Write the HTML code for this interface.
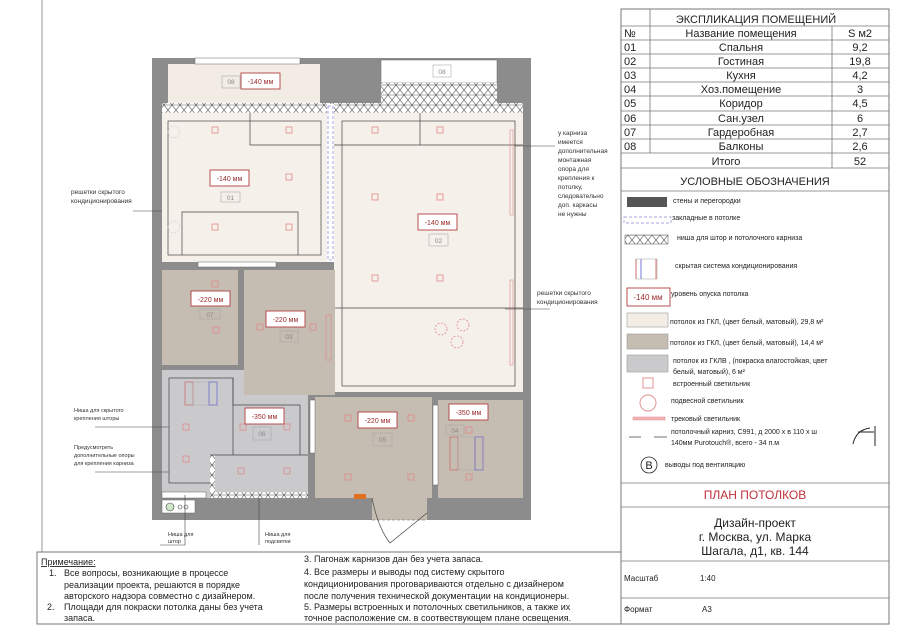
<!DOCTYPE html>
<html><head><meta charset="utf-8"><style>
html,body{margin:0;padding:0;background:#fff;}
svg{display:block;font-family:"Liberation Sans",sans-serif;}
</style></head><body>
<svg width="900" height="636" viewBox="0 0 900 636" xmlns="http://www.w3.org/2000/svg">
<defs>
<pattern id="hx" width="8" height="10" patternUnits="userSpaceOnUse">
<rect width="8" height="10" fill="#fff"/>
<path d="M0 0L4 5L0 10M8 0L4 5L8 10M0 5H8" stroke="#555" stroke-width="0.6" fill="none"/>
</pattern>
</defs>
<!-- page left line -->
<line x1="42" y1="0" x2="42" y2="552" stroke="#999" stroke-width="1"/>

<!-- PLAN -->
<rect x="152" y="58" width="379" height="462" fill="#8c8c8c"/>
<!-- left balcony -->
<rect x="168" y="64" width="152" height="40" fill="#f3ece4"/>
<rect x="195" y="58" width="105" height="6" fill="#fff" stroke="#666" stroke-width="0.5"/>
<!-- right balcony -->
<rect x="381" y="60" width="116" height="23" fill="#fff" stroke="#666" stroke-width="0.5"/>
<rect x="381" y="83" width="116" height="20" fill="url(#hx)"/>
<!-- hatched strip -->
<rect x="162" y="103" width="361" height="10" fill="url(#hx)"/>
<!-- room 01 -->
<rect x="162" y="113" width="165" height="149" fill="#f6f0ea"/>
<rect x="168" y="121" width="153" height="134" fill="none" stroke="#444" stroke-width="0.7"/>
<polyline points="250,113 250,145 321,145" fill="none" stroke="#444" stroke-width="0.7"/>
<polyline points="182,255 182,212 298,212 298,255" fill="none" stroke="#444" stroke-width="0.7"/>
<!-- blue strip -->
<rect x="327" y="104" width="7" height="158" fill="#fff"/>
<rect x="328" y="106" width="5" height="154" fill="none" stroke="#66c" stroke-width="0.6" stroke-dasharray="3,2"/>
<!-- room 02 -->
<rect x="334" y="113" width="189" height="279" fill="#f6f0ea"/>
<rect x="342" y="121" width="173" height="265" fill="none" stroke="#444" stroke-width="0.7"/>
<polyline points="334,145 523,145" fill="none" stroke="#444" stroke-width="0.7"/>
<line x1="420" y1="113" x2="420" y2="145" stroke="#444" stroke-width="0.7"/>
<line x1="335" y1="308" x2="523" y2="308" stroke="#444" stroke-width="0.7"/>
<rect x="510" y="130" width="3" height="85" fill="none" stroke="#d88" stroke-width="0.6"/>
<rect x="510" y="280" width="3" height="85" fill="none" stroke="#d88" stroke-width="0.6"/>
<!-- bottom of 01 partition window -->
<rect x="198" y="262" width="78" height="5" fill="#fff" stroke="#666" stroke-width="0.5"/>
<!-- room 07 -->
<rect x="162" y="270" width="76" height="95" fill="#c5bcb2"/>
<!-- room 06 -->
<rect x="162" y="370" width="146" height="128" fill="#cacacd"/>
<rect x="169" y="378" width="64" height="105" fill="none" stroke="#444" stroke-width="0.7"/>
<polyline points="233,378 233,405 300,405 300,455" fill="none" stroke="#444" stroke-width="0.7"/>
<rect x="185" y="382" width="8" height="23" fill="none" stroke="#c66" stroke-width="0.7"/>
<rect x="193" y="382" width="16" height="23" fill="none" stroke="#aaa" stroke-width="0.5"/>
<rect x="209" y="382" width="8" height="23" fill="none" stroke="#66c" stroke-width="0.7"/>
<!-- niche hatched in 06 -->
<rect x="210" y="455" width="98" height="43" fill="#cacacd"/>
<rect x="210" y="455" width="5" height="43" fill="url(#hx)"/>
<rect x="215" y="492" width="93" height="6" fill="url(#hx)"/>
<line x1="210" y1="455" x2="308" y2="455" stroke="#444" stroke-width="0.7"/>
<rect x="162" y="492" width="44" height="6" fill="#fff" stroke="#666" stroke-width="0.5"/>
<!-- room 03 -->
<rect x="244" y="270" width="91" height="125" fill="#c5bcb2"/>
<rect x="326" y="315" width="5" height="45" fill="none" stroke="#d88" stroke-width="0.6"/>
<!-- room 05 -->
<rect x="315" y="397" width="117" height="101" fill="#c5bcb2"/>
<rect x="310" y="400" width="5" height="53" fill="#fff" stroke="#666" stroke-width="0.5"/>
<rect x="354" y="494" width="12" height="5" fill="#e07020"/>
<!-- room 04 -->
<rect x="438" y="400" width="85" height="98" fill="#c5bcb2"/>
<rect x="433" y="405" width="5" height="80" fill="#fff" stroke="#666" stroke-width="0.5"/>
<rect x="450" y="437" width="8" height="33" fill="none" stroke="#c66" stroke-width="0.7"/>
<rect x="458" y="437" width="17" height="33" fill="none" stroke="#aaa" stroke-width="0.5"/>
<rect x="475" y="437" width="8" height="33" fill="none" stroke="#66c" stroke-width="0.7"/>
<!-- door -->
<rect x="372" y="498" width="55" height="22" fill="#c5bcb2"/>
<line x1="372" y1="520" x2="427" y2="520" stroke="#666" stroke-width="0.6" stroke-dasharray="3,2"/>
<path d="M372 498 Q378 528 390 543 L427 513" fill="none" stroke="#444" stroke-width="0.7"/>
<!-- green -->
<rect x="162" y="500" width="33" height="13" fill="#fff" stroke="#666" stroke-width="0.5"/>
<circle cx="170" cy="507" r="4" fill="#cde6c7" stroke="#444" stroke-width="0.6"/>
<circle cx="180" cy="507" r="2" fill="none" stroke="#444" stroke-width="0.6"/>
<circle cx="186" cy="507" r="2" fill="none" stroke="#444" stroke-width="0.6"/>

<!-- lamps -->
<g fill="none" stroke="#e08888" stroke-width="0.8">
<rect x="212" y="127" width="6" height="6"/><rect x="286" y="127" width="6" height="6"/>
<rect x="286" y="174" width="6" height="6"/><rect x="212" y="224" width="6" height="6"/><rect x="286" y="224" width="6" height="6"/>
<rect x="372" y="127" width="6" height="6"/><rect x="437" y="127" width="6" height="6"/>
<rect x="372" y="194" width="6" height="6"/><rect x="437" y="194" width="6" height="6"/>
<rect x="372" y="275" width="6" height="6"/><rect x="437" y="275" width="6" height="6"/>
<rect x="212" y="281" width="6" height="6"/><rect x="213" y="327" width="6" height="6"/>
<rect x="257" y="324" width="6" height="6"/><rect x="310" y="324" width="6" height="6"/>
<rect x="183" y="424" width="6" height="6"/><rect x="240" y="424" width="6" height="6"/><rect x="284" y="424" width="6" height="6"/>
<rect x="183" y="456" width="6" height="6"/><rect x="238" y="468" width="6" height="6"/><rect x="284" y="468" width="6" height="6"/>
<rect x="345" y="415" width="6" height="6"/><rect x="408" y="415" width="6" height="6"/>
<rect x="345" y="474" width="6" height="6"/><rect x="408" y="474" width="6" height="6"/>
<rect x="466" y="427" width="6" height="6"/><rect x="466" y="474" width="6" height="6"/>
<circle cx="441" cy="329" r="6" stroke-dasharray="2,1.5"/><circle cx="463" cy="325" r="6" stroke-dasharray="2,1.5"/><circle cx="457" cy="342" r="6" stroke-dasharray="2,1.5"/>
</g>
<g fill="none" stroke="#ccc" stroke-width="0.6"><circle cx="174" cy="132" r="6" stroke-dasharray="2,1.5"/><circle cx="174" cy="227" r="6" stroke-dasharray="2,1.5"/></g>

<!-- level labels -->
<g font-size="7" fill="#9a2a2a" text-anchor="middle">
<rect x="241" y="73" width="39" height="16" fill="#fff" stroke="#b04040" stroke-width="0.9"/><text x="260.5" y="84">-140 мм</text>
<rect x="210" y="170" width="39" height="16" fill="#fff" stroke="#b04040" stroke-width="0.9"/><text x="229.5" y="181">-140 мм</text>
<rect x="418" y="214" width="39" height="16" fill="#fff" stroke="#b04040" stroke-width="0.9"/><text x="437.5" y="225">-140 мм</text>
<rect x="191" y="291" width="39" height="15" fill="#fff" stroke="#b04040" stroke-width="0.9"/><text x="210.5" y="302">-220 мм</text>
<rect x="266" y="311" width="39" height="16" fill="#fff" stroke="#b04040" stroke-width="0.9"/><text x="285.5" y="322">-220 мм</text>
<rect x="245" y="408" width="39" height="16" fill="#fff" stroke="#b04040" stroke-width="0.9"/><text x="264.5" y="419">-350 мм</text>
<rect x="358" y="412" width="39" height="16" fill="#fff" stroke="#b04040" stroke-width="0.9"/><text x="377.5" y="423">-220 мм</text>
<rect x="449" y="404" width="39" height="16" fill="#fff" stroke="#b04040" stroke-width="0.9"/><text x="468.5" y="415">-350 мм</text>
</g>
<g font-size="6.5" fill="#888" text-anchor="middle">
<rect x="222" y="76" width="18" height="12" fill="none" stroke="#aaa" stroke-width="0.6"/><text x="231" y="84">08</text>
<rect x="433" y="65" width="18" height="12" fill="none" stroke="#aaa" stroke-width="0.6"/><text x="442" y="74">08</text>
<rect x="221" y="192" width="19" height="10" fill="none" stroke="#aaa" stroke-width="0.6"/><text x="230.5" y="200">01</text>
<rect x="429" y="234" width="19" height="12" fill="none" stroke="#aaa" stroke-width="0.6"/><text x="438.5" y="243">02</text>
<rect x="200" y="309" width="20" height="10" fill="none" stroke="#aaa" stroke-width="0.6"/><text x="210" y="317">07</text>
<rect x="280" y="331" width="18" height="11" fill="none" stroke="#aaa" stroke-width="0.6"/><text x="289" y="339">03</text>
<rect x="253" y="427" width="18" height="13" fill="none" stroke="#aaa" stroke-width="0.6"/><text x="262" y="436">06</text>
<rect x="373" y="433" width="19" height="13" fill="none" stroke="#aaa" stroke-width="0.6"/><text x="382.5" y="442">05</text>
<rect x="446" y="425" width="18" height="10" fill="none" stroke="#aaa" stroke-width="0.6"/><text x="455" y="433">04</text>
</g>

<!-- annotations -->
<g font-size="6.5" fill="#333">
<text x="71" y="194">решетки скрытого</text><text x="71" y="203">кондиционирования</text>
<line x1="133" y1="211" x2="162" y2="211" stroke="#444" stroke-width="0.6"/>
<text x="74" y="412" font-size="5.5">Ниша для скрытого</text><text x="74" y="420" font-size="5.5">крепления шторы</text>
<line x1="95" y1="427" x2="169" y2="427" stroke="#444" stroke-width="0.6"/>
<text x="74" y="449" font-size="5.5">Предусмотреть</text><text x="74" y="457" font-size="5.5">дополнительные опоры</text><text x="74" y="465" font-size="5.5">для крепления карниза</text>
<line x1="95" y1="472" x2="169" y2="472" stroke="#444" stroke-width="0.6"/>
<text x="168" y="536" font-size="5.5">Ниша для</text><text x="168" y="543" font-size="5.5">штор</text>
<polyline points="160,545 185,545 185,495" fill="none" stroke="#444" stroke-width="0.6"/>
<text x="265" y="536" font-size="5.5">Ниша для</text><text x="265" y="543" font-size="5.5">подсветки</text>
<polyline points="259,545 259,498" fill="none" stroke="#444" stroke-width="0.6"/>
<g font-size="6.5"><text x="558" y="135">у карниза</text><text x="558" y="144">имеется</text><text x="558" y="153">дополнительная</text><text x="558" y="162">монтажная</text><text x="558" y="171">опора для</text><text x="558" y="180">крепления к</text><text x="558" y="189">потолку,</text><text x="558" y="198">следовательно</text><text x="558" y="207">доп. каркасы</text><text x="558" y="216">не нужны</text></g>
<line x1="515" y1="146" x2="555" y2="146" stroke="#444" stroke-width="0.6"/>
<text x="537" y="295">решетки скрытого</text><text x="537" y="304">кондиционирования</text>
<line x1="505" y1="309" x2="550" y2="309" stroke="#444" stroke-width="0.6"/>
</g>

<!-- NOTES BOX -->
<rect x="37" y="552" width="584" height="72" fill="none" stroke="#777" stroke-width="1"/>
<g font-size="9" fill="#222">
<text x="41" y="565" text-decoration="underline">Примечание:</text>
<text x="49" y="576">1.</text><text x="64" y="576">Все вопросы, возникающие в процессе</text>
<text x="64" y="588">реализации проекта, решаются в порядке</text>
<text x="64" y="599">авторского надзора совместно с дизайнером.</text>
<text x="47" y="610">2.</text><text x="64" y="610">Площади для покраски потолка даны без учета</text>
<text x="64" y="621">запаса.</text>
<text x="304" y="562">3. Пагонаж карнизов дан без учета запаса.</text>
<text x="304" y="575">4. Все размеры и выводы под систему скрытого</text>
<text x="304" y="587">кондиционирования проговариваются отдельно с дизайнером</text>
<text x="304" y="599">после получения технической документации на кондиционеры.</text>
<text x="304" y="610">5. Размеры встроенных и потолочных светильников, а также их</text>
<text x="304" y="621">точное расположение см. в соотвествующем плане освещения.</text>
</g>

<!-- RIGHT BLOCK -->
<rect x="621" y="9" width="268" height="615" fill="none" stroke="#777" stroke-width="1"/>
<g stroke="#777" stroke-width="0.8">
<line x1="621" y1="26" x2="889" y2="26"/><line x1="621" y1="40" x2="889" y2="40"/><line x1="621" y1="54" x2="889" y2="54"/>
<line x1="621" y1="68" x2="889" y2="68"/><line x1="621" y1="82" x2="889" y2="82"/><line x1="621" y1="96" x2="889" y2="96"/>
<line x1="621" y1="111" x2="889" y2="111"/><line x1="621" y1="125" x2="889" y2="125"/><line x1="621" y1="139" x2="889" y2="139"/>
<line x1="621" y1="153" x2="889" y2="153"/><line x1="621" y1="168" x2="889" y2="168"/><line x1="621" y1="191" x2="889" y2="191"/>
<line x1="650" y1="9" x2="650" y2="153"/><line x1="832" y1="26" x2="832" y2="168"/>
<line x1="621" y1="483" x2="889" y2="483"/><line x1="621" y1="507" x2="889" y2="507"/><line x1="621" y1="561" x2="889" y2="561"/><line x1="621" y1="598" x2="889" y2="598"/>
</g>
<g font-size="11" fill="#222" text-anchor="middle">
<text x="756" y="23">ЭКСПЛИКАЦИЯ ПОМЕЩЕНИЙ</text>
<text x="741" y="37">Название помещения</text><text x="741" y="51">Спальня</text><text x="741" y="65">Гостиная</text><text x="741" y="79">Кухня</text><text x="741" y="93">Хоз.помещение</text><text x="741" y="107">Коридор</text><text x="741" y="122">Сан.узел</text><text x="741" y="136">Гардеробная</text><text x="741" y="150">Балконы</text><text x="726" y="165">Итого</text>
<text x="860" y="37">S м2</text><text x="860" y="51">9,2</text><text x="860" y="65">19,8</text><text x="860" y="79">4,2</text><text x="860" y="93">3</text><text x="860" y="107">4,5</text><text x="860" y="122">6</text><text x="860" y="136">2,7</text><text x="860" y="150">2,6</text><text x="860" y="165">52</text>
<text x="755" y="185">УСЛОВНЫЕ ОБОЗНАЧЕНИЯ</text>
</g>
<g font-size="11" fill="#222">
<text x="624" y="37">№</text><text x="624" y="51">01</text><text x="624" y="65">02</text><text x="624" y="79">03</text><text x="624" y="93">04</text><text x="624" y="107">05</text><text x="624" y="122">06</text><text x="624" y="136">07</text><text x="624" y="150">08</text>
</g>
<!-- legend -->
<rect x="627" y="197" width="40" height="10" fill="#555"/>
<rect x="624" y="217" width="47" height="6" fill="none" stroke="#88c" stroke-width="0.7" stroke-dasharray="3,2"/>
<rect x="625" y="235" width="43" height="9" fill="url(#hx)" stroke="#555" stroke-width="0.5"/>
<rect x="636" y="259" width="21" height="20" fill="none" stroke="#999" stroke-width="0.5"/>
<line x1="641" y1="259" x2="641" y2="279" stroke="#55c" stroke-width="0.8"/><line x1="656" y1="259" x2="656" y2="279" stroke="#c55" stroke-width="0.8"/><line x1="636" y1="259" x2="636" y2="279" stroke="#c55" stroke-width="0.8"/>
<rect x="627" y="288" width="43" height="18" fill="#fff" stroke="#b04040" stroke-width="0.9"/>
<text x="648" y="300" font-size="8" fill="#9a2a2a" text-anchor="middle">-140 мм</text>
<rect x="627" y="313" width="41" height="14" fill="#f3ede6" stroke="#999" stroke-width="0.6"/>
<rect x="627" y="334" width="41" height="15" fill="#c5bcb2" stroke="#999" stroke-width="0.6"/>
<rect x="627" y="355" width="41" height="17" fill="#cacacd" stroke="#999" stroke-width="0.6"/>
<rect x="643" y="378" width="10" height="10" fill="none" stroke="#e08888" stroke-width="0.9"/>
<circle cx="648" cy="403" r="8" fill="none" stroke="#e08888" stroke-width="0.9"/>
<rect x="633" y="417" width="32" height="3" fill="#f2b5b5" stroke="#e08888" stroke-width="0.5"/>
<line x1="629" y1="437" x2="641" y2="437" stroke="#333" stroke-width="0.7"/><line x1="654" y1="437" x2="667" y2="437" stroke="#333" stroke-width="0.7"/>
<path d="M853 444 Q856 430 870 428 M858 432 H874 M875 426 V446" fill="none" stroke="#222" stroke-width="1"/>
<circle cx="649" cy="465" r="8" fill="none" stroke="#222" stroke-width="0.8"/>
<text x="649" y="469" font-size="11" text-anchor="middle" fill="#222">B</text>
<g font-size="7" fill="#222">
<text x="673" y="203">стены и перегородки</text>
<text x="672" y="220">закладные в потолке</text>
<text x="677" y="240">ниша для штор и потолочного карниза</text>
<text x="675" y="268">скрытая система кондиционирования</text>
<text x="671" y="296">уровень опуска потолка</text>
<text x="670" y="324">потолок из ГКЛ, (цвет белый, матовый), 29,8 м²</text>
<text x="670" y="345">потолок из ГКЛ, (цвет белый, матовый), 14,4 м²</text>
<text x="673" y="363">потолок из ГКЛВ , (покраска влагостойкая, цвет</text>
<text x="673" y="374">белый, матовый), 6 м²</text>
<text x="673" y="386">встроенный светильник</text>
<text x="671" y="403">подвесной светильник</text>
<text x="671" y="421">трековый светильник</text>
<text x="671" y="434">потолочный карниз, С991, д 2000 х в 110 х ш</text>
<text x="671" y="445">140мм Purotouch®, всего - 34 п.м</text>
<text x="665" y="467">выводы под вентиляцию</text>
</g>
<text x="755" y="499" font-size="12" fill="#c0303a" text-anchor="middle">ПЛАН ПОТОЛКОВ</text>
<g font-size="12" fill="#222" text-anchor="middle">
<text x="755" y="527">Дизайн-проект</text><text x="755" y="541">г. Москва, ул. Марка</text><text x="755" y="555">Шагала, д1, кв. 144</text>
</g>
<g font-size="8" fill="#222">
<text x="624" y="581">Масштаб</text><text x="700" y="581">1:40</text>
<text x="624" y="612">Формат</text><text x="702" y="612">А3</text>
</g>
</svg>
</body></html>
